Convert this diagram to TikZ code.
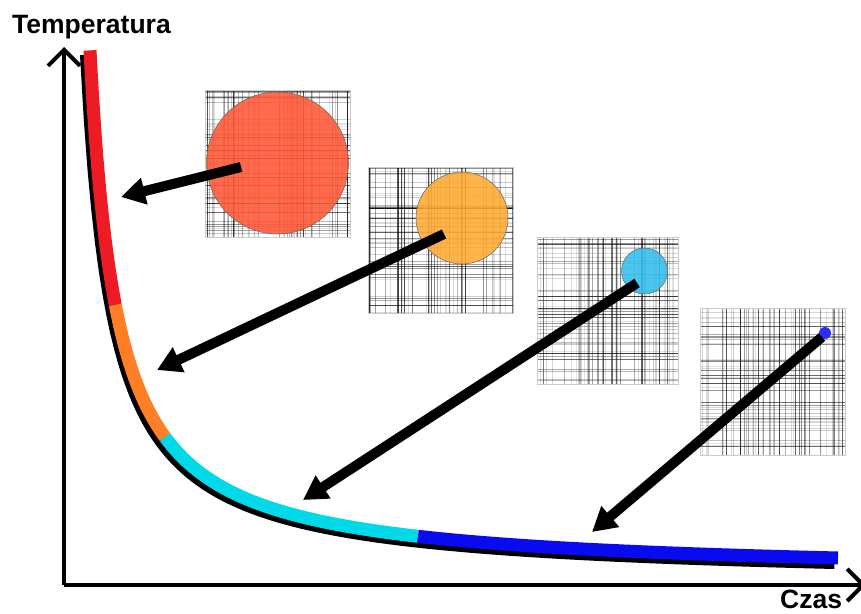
\documentclass[tikz,border=0pt]{standalone}
\usepackage{fontspec}
\setmainfont{Liberation Sans}
\usetikzlibrary{arrows.meta}

\definecolor{segred}{RGB}{237,28,36}
\definecolor{segorange}{RGB}{255,127,39}
\definecolor{segcyan}{RGB}{0,218,232}
\definecolor{segblue}{RGB}{10,10,240}
\definecolor{kropla1}{RGB}{255,87,51}
\definecolor{kropla2}{RGB}{255,170,50}
\definecolor{kropla3}{RGB}{50,190,238}
\definecolor{kropla4}{RGB}{45,45,255}

% random grid patch: seed, x, y, width, height
\newcommand{\siatka}[5]{%
  \pgfmathsetseed{#1}
  \foreach \i in {1,...,48}{
    \pgfmathsetmacro{\gx}{#2+rnd*#4}
    \pgfmathsetmacro{\gop}{0.1+0.8*rnd*rnd}
    \draw[line width=0.8pt, draw opacity=\gop] (\gx,#3) -- (\gx,#3+#5);
  }
  \foreach \i in {1,...,48}{
    \pgfmathsetmacro{\gy}{#3+rnd*#5}
    \pgfmathsetmacro{\gop}{0.1+0.8*rnd*rnd}
    \draw[line width=0.8pt, draw opacity=\gop] (#2,\gy) -- (#2+#4,\gy);
  }
  \draw[gray!40, line width=0.6pt] (#2,#3) rectangle (#2+#4,#3+#5);
}

\begin{document}
\begin{tikzpicture}[x=1pt, y=-1pt,
  os/.style={line width=4pt, -{Straight Barb[length=16pt,width=32pt]}},
  band/.style={line width=13pt, line cap=butt},
  strzalka/.style={line width=10pt, -{Triangle[length=24pt,width=26pt]}},
  kropla/.style={circle, inner sep=0pt, draw=black!60, line width=0.5pt, fill opacity=0.88},
  opis/.style={font=\fontsize{26.5}{30}\selectfont\bfseries, inner sep=0pt}]
\useasboundingbox (0,0) rectangle (861,613);

% axes
\coordinate (O) at (64,585);
\coordinate (ytop) at (64,47);
\coordinate (xend) at (866,585);
\draw[os] (O) -- (ytop);
\draw[os] (O) -- (xend);
\node[opis, anchor=base west] (temp) at (12,33) {Temperatura};
\node[opis, anchor=base west] (czas) at (780,608) {Czas};

% cooling curve
\draw[band, black, shift={(-3.5,4.5)}] plot[domain=90:838, samples=200] (\x,{576.3-14200/(\x-63)});
\draw[band, segred] plot[domain=90:115.3, samples=60] (\x,{576.3-14200/(\x-63)});
\draw[band, segorange] plot[domain=115.3:165, samples=60] (\x,{576.3-14200/(\x-63)});
\draw[band, segcyan] plot[domain=165:418, samples=80] (\x,{576.3-14200/(\x-63)});
\draw[band, segblue] plot[domain=418:838, samples=40] (\x,{576.3-14200/(\x-63)});

% grids and droplets
\siatka{11}{205}{90}{145}{147}
\siatka{23}{368}{167}{145}{146}
\siatka{37}{537}{237}{141}{147}
\siatka{41}{700}{308}{145}{147}

\node[kropla, fill=kropla1, minimum size=142pt] (k1) at (277.5,163) {};
\node[kropla, fill=kropla2, minimum size=92pt] (k2) at (462,218) {};
\node[kropla, fill=kropla3, minimum size=46pt] (k3) at (644.5,271) {};
\node[kropla, fill=kropla4, draw=none, fill opacity=1, minimum size=12pt] (k4) at (825,333) {};

% arrows to the curve
\coordinate (s1) at (241,167);
\coordinate (t1) at (121,197);
\coordinate (s2) at (444,234);
\coordinate (t2) at (157,370);
\coordinate (s3) at (637,283);
\coordinate (t3) at (303,500);
\coordinate (s4) at (822,337);
\coordinate (t4) at (592,532);
\draw[strzalka] (s1) -- (t1);
\draw[strzalka] (s2) -- (t2);
\draw[strzalka] (s3) -- (t3);
\draw[strzalka] (s4) -- (t4);
\end{tikzpicture}
\end{document}
